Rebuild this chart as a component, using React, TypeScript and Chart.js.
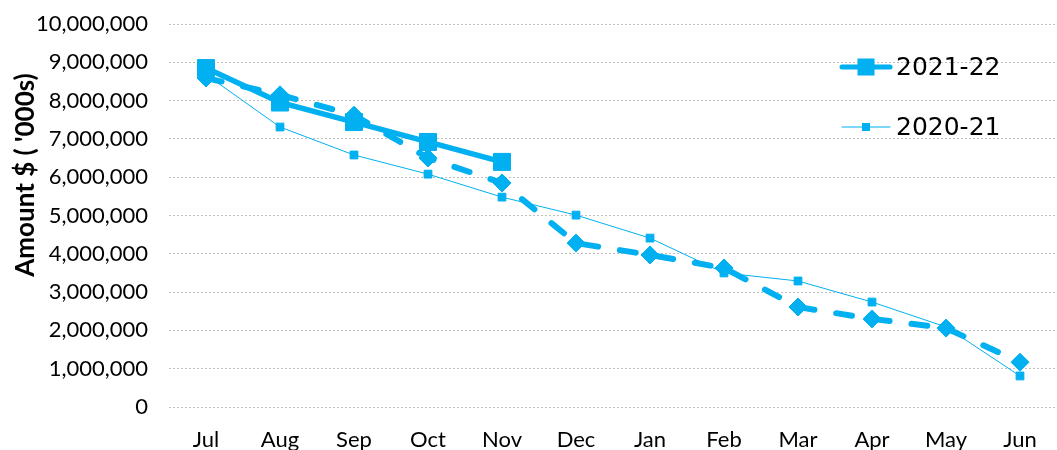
import React, { useEffect, useRef } from "react";
import { Chart, registerables } from "chart.js";

Chart.register(...registerables);

const months = ["Jul", "Aug", "Sep", "Oct", "Nov", "Dec", "Jan", "Feb", "Mar", "Apr", "May", "Jun"];
const fy2122 = [8850000, 7950000, 7440000, 6920000, 6400000, null, null, null, null, null, null, null];
const fy2021 = [8680000, 7310000, 6580000, 6080000, 5480000, 5010000, 4410000, 3500000, 3290000, 2740000, 2090000, 810000];
const projected = [8590000, 8150000, 7620000, 6500000, 5850000, 4280000, 3970000, 3630000, 2610000, 2300000, 2060000, 1170000];
const yTicks = [0, 1000000, 2000000, 3000000, 4000000, 5000000, 6000000, 7000000, 8000000, 9000000, 10000000];
const yTitle = "Amount $ ( '000s)";

const BLUE = "#00B0F0";

const overlayPlugin = {
  id: "overlay",
  afterDraw(chart: any) {
    const ctx = chart.ctx;
    ctx.save();
    // y axis title
    ctx.translate(26, 175);
    ctx.rotate(-Math.PI / 2);
    ctx.fillStyle = "#000";
    ctx.font = "bold 26px Lato";
    ctx.textAlign = "center";
    ctx.textBaseline = "middle";
    ctx.fillText(yTitle, 0, 0);
    ctx.restore();

    // legend (two datasets)
    const items = [
      { ds: chart.data.datasets[1], y: 67, lw: 5, size: 17 },
      { ds: chart.data.datasets[2], y: 127, lw: 1, size: 8 },
    ];
    ctx.save();
    items.forEach((it) => {
      ctx.strokeStyle = BLUE;
      ctx.fillStyle = BLUE;
      ctx.lineWidth = it.lw;
      ctx.lineCap = "round";
      ctx.beginPath();
      ctx.moveTo(842, it.y);
      ctx.lineTo(890, it.y);
      ctx.stroke();
      ctx.fillRect(866 - it.size / 2, it.y - it.size / 2, it.size, it.size);
      ctx.fillStyle = "#000";
      ctx.font = "25px 'DejaVu Sans'";
      ctx.textAlign = "left";
      ctx.textBaseline = "middle";
      ctx.fillText(it.ds.label, 896, it.y + 1);
    });
    ctx.restore();
  },
};

export default function App() {
  const ref = useRef<HTMLCanvasElement | null>(null);
  useEffect(() => {
    if (!ref.current) return;
    const chart = new Chart(ref.current, {
      type: "line",
      data: {
        labels: months,
        datasets: [
          {
            label: "Projection",
            data: projected,
            borderColor: BLUE,
            backgroundColor: BLUE,
            borderWidth: 6,
            borderDash: [16, 22],
            borderCapStyle: "round",
            pointStyle: "rectRot",
            pointRadius: 9,
            pointBorderWidth: 1,
            tension: 0,
            order: 3,
          },
          {
            label: "2021-22",
            data: fy2122,
            borderColor: BLUE,
            backgroundColor: BLUE,
            borderWidth: 5.5,
            pointStyle: "rect",
            pointRadius: 12,
            pointBorderWidth: 1,
            tension: 0,
            order: 1,
          },
          {
            label: "2020-21",
            data: fy2021,
            borderColor: BLUE,
            backgroundColor: BLUE,
            borderWidth: 1,
            pointStyle: "rect",
            pointRadius: 5.5,
            pointBorderWidth: 1,
            tension: 0,
            order: 2,
          },
        ],
      },
      options: {
        animation: false,
        responsive: true,
        maintainAspectRatio: false,
        layout: { autoPadding: false, padding: { left: 8, right: 0, top: 24, bottom: 0 } },
        plugins: {
          legend: { display: false },
          tooltip: { enabled: false },
        },
        scales: {
          x: {
            offset: true,
            grid: { display: false, drawTicks: false },
            border: { display: false },
            ticks: {
              color: "#000",
              font: { family: "Lato", size: 22 },
              padding: 20,
              maxRotation: 0,
              autoSkip: false,
            },
            afterFit: (s: any) => {
              s.height = 43;
              s.paddingLeft = 0;
              s.paddingRight = 0;
            },
          },
          y: {
            min: 0,
            max: 10000000,
            afterBuildTicks: (s: any) => {
              s.ticks = yTicks.map((v) => ({ value: v }));
            },
            grid: {
              color: "#BFBFBF",
              lineWidth: 1,
              drawTicks: false,
            },
            border: { display: false, dash: [2, 2] },
            ticks: {
              color: "#000",
              font: { family: "Lato", size: 22 },
              padding: 21,
              callback: (v: any) => Number(v).toLocaleString("en-US"),
            },
            afterFit: (s: any) => {
              s.width = 161;
              s.paddingTop = 0;
              s.paddingBottom = 0;
            },
          },
        },
      },
      plugins: [overlayPlugin],
    });
    return () => chart.destroy();
  }, []);
  return (
    <div style={{ position: "fixed", left: 0, top: 0, width: 1057, height: 450, background: "#fff" }}>
      <canvas ref={ref} />
    </div>
  );
}
